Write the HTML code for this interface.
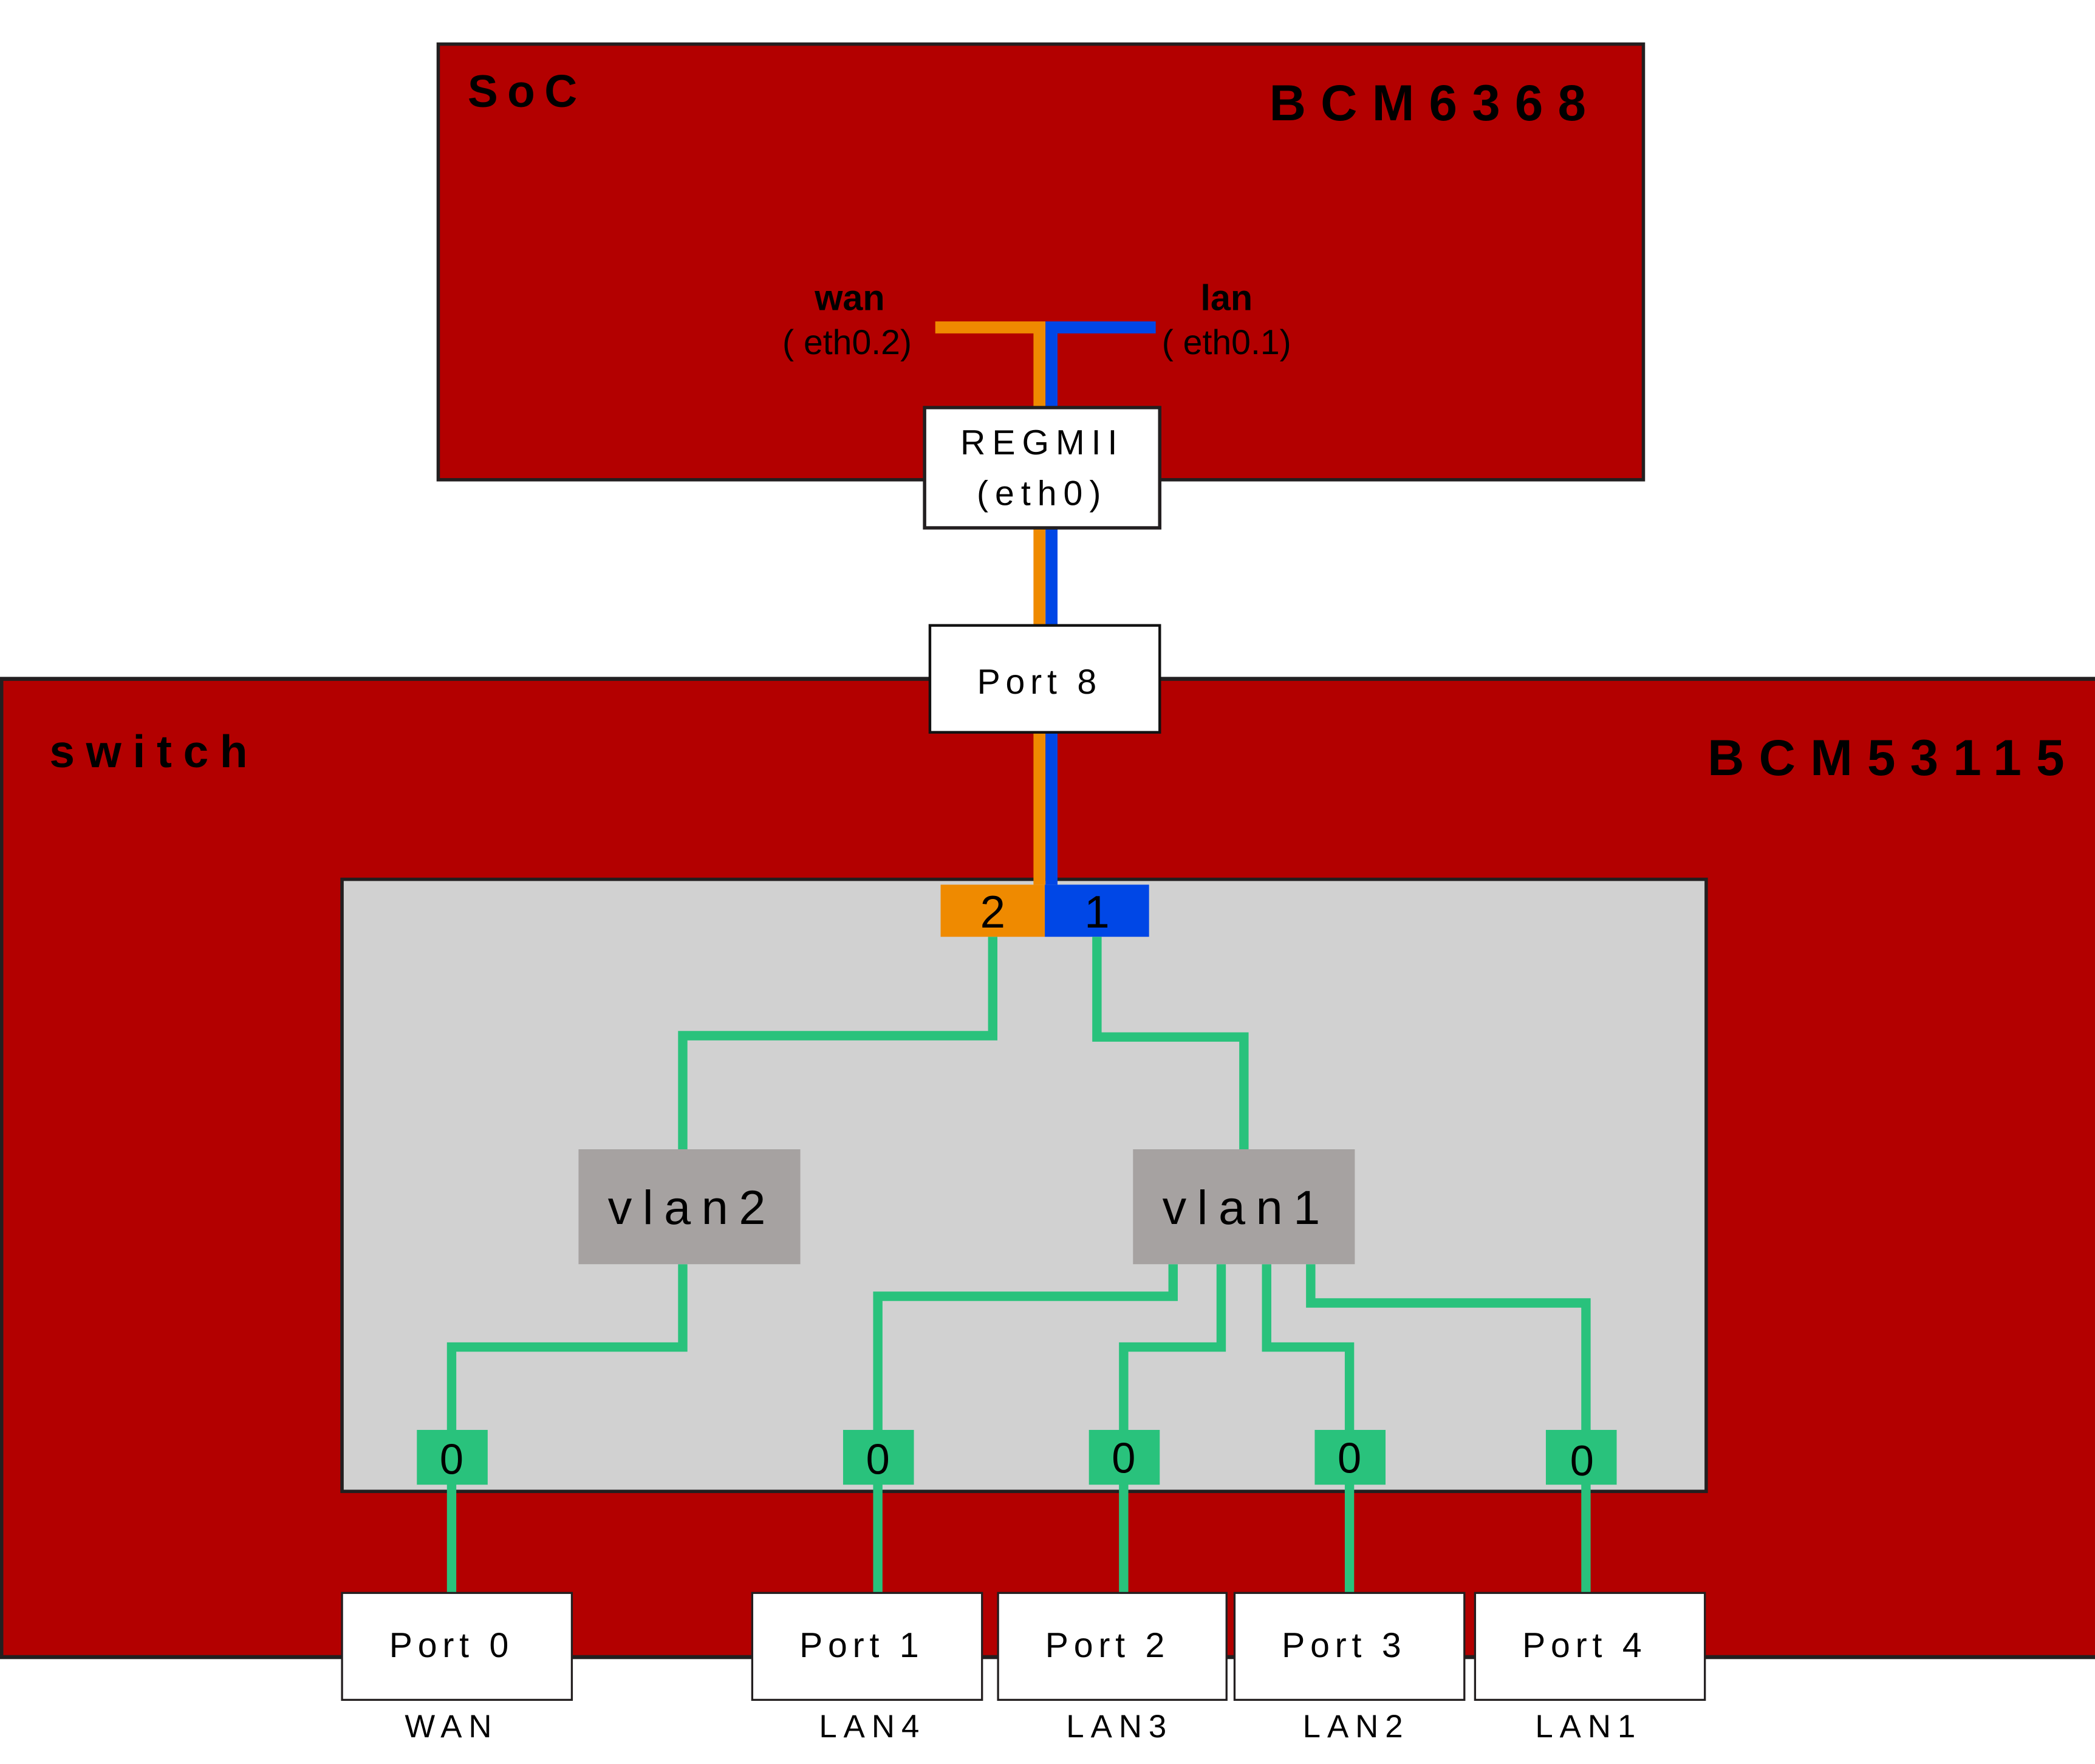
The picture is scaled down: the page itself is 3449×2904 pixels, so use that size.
<!DOCTYPE html>
<html><head><meta charset="utf-8"><style>html,body{margin:0;padding:0;background:#fff}svg{display:block}</style></head>
<body>
<svg width="3449" height="2904" viewBox="0 0 1568 1320" preserveAspectRatio="none" xmlns="http://www.w3.org/2000/svg" font-family="Liberation Sans, sans-serif">
<rect x="0" y="0" width="1568" height="1320" fill="#fff"/>
<!-- SoC -->
<rect x="328" y="33" width="902" height="326" fill="#b30000" stroke="#231f20" stroke-width="2.5"/>
<text x="350" y="80" font-size="34" font-weight="bold" letter-spacing="7">SoC</text>
<text x="950" y="90" font-size="38" font-weight="bold" letter-spacing="11">BCM6368</text>
<text x="636" y="232" font-size="27" font-weight="bold" text-anchor="middle">wan</text>
<text x="634" y="265" font-size="26" text-anchor="middle">( eth0.2)</text>
<text x="918" y="232" font-size="27" font-weight="bold" text-anchor="middle">lan</text>
<text x="918" y="265" font-size="26" text-anchor="middle">( eth0.1)</text>
<!-- switch -->
<rect x="1" y="508" width="1580" height="732" fill="#b30000" stroke="#231f20" stroke-width="3"/>
<text x="37" y="574" font-size="34" font-weight="bold" letter-spacing="8.5">switch</text>
<text x="1278" y="580" font-size="38" font-weight="bold" letter-spacing="11">BCM53115</text>
<rect x="256" y="658" width="1021" height="458" fill="#d1d1d1" stroke="#231f20" stroke-width="2.5"/>
<!-- orange / blue -->
<path d="M700 245 H778 V662" fill="none" stroke="#ef8a00" stroke-width="9"/>
<path d="M865 245 H787 V662" fill="none" stroke="#0047e6" stroke-width="9"/>
<rect x="692" y="305" width="176" height="90" fill="#fff" stroke="#231f20" stroke-width="2.5"/>
<text x="780" y="340" font-size="26" text-anchor="middle" letter-spacing="5">REGMII</text>
<text x="780" y="378" font-size="26" text-anchor="middle" letter-spacing="5">(eth0)</text>
<rect x="696" y="468" width="172" height="80" fill="#fff" stroke="#111" stroke-width="2"/>
<text x="778" y="519" font-size="26" text-anchor="middle" letter-spacing="4">Port 8</text>
<rect x="704" y="662" width="78" height="39" fill="#ef8a00"/>
<rect x="782" y="662" width="78" height="39" fill="#0047e6"/>
<text x="743" y="694" font-size="34" text-anchor="middle">2</text>
<text x="821" y="694" font-size="34" text-anchor="middle">1</text>
<!-- green lines -->
<g fill="none" stroke="#29c27c" stroke-width="7">
<path d="M743 701 V775 H511 V860"/>
<path d="M821 701 V776 H931 V862"/>
<path d="M511 946 V1008 H338 V1192"/>
<path d="M878 946 V970 H657 V1192"/>
<path d="M914 946 V1008 H841 V1192"/>
<path d="M948 946 V1008 H1010 V1192"/>
<path d="M981 946 V975 H1187 V1192"/>
</g>
<rect x="433" y="860" width="166" height="86" fill="#a6a2a1"/>
<rect x="848" y="860" width="166" height="86" fill="#a6a2a1"/>
<text x="518" y="916" font-size="36" text-anchor="middle" letter-spacing="8">vlan2</text>
<text x="933" y="916" font-size="36" text-anchor="middle" letter-spacing="8">vlan1</text>
<g fill="#29c27c">
<rect x="312" y="1070" width="53" height="41"/>
<rect x="631" y="1070" width="53" height="41"/>
<rect x="815" y="1070" width="53" height="41"/>
<rect x="984" y="1070" width="53" height="41"/>
<rect x="1157" y="1070" width="53" height="41"/>
</g>
<g font-size="32" text-anchor="middle">
<text x="338" y="1103">0</text><text x="657" y="1103">0</text><text x="841" y="1102">0</text><text x="1010" y="1102">0</text><text x="1184" y="1104">0</text>
</g>
<g fill="#fff" stroke="#231f20" stroke-width="1.5">
<rect x="256" y="1192" width="172" height="80"/>
<rect x="563" y="1192" width="172" height="80"/>
<rect x="747" y="1192" width="171" height="80"/>
<rect x="924" y="1192" width="172" height="80"/>
<rect x="1104" y="1192" width="172" height="80"/>
</g>
<g font-size="26" text-anchor="middle" letter-spacing="4">
<text x="338" y="1240">Port 0</text>
<text x="645" y="1240">Port 1</text>
<text x="829" y="1240">Port 2</text>
<text x="1006" y="1240">Port 3</text>
<text x="1186" y="1240">Port 4</text>
</g>
<g font-size="24" text-anchor="middle" letter-spacing="5">
<text x="338" y="1300">WAN</text>
<text x="653" y="1300">LAN4</text>
<text x="838" y="1300">LAN3</text>
<text x="1015" y="1300">LAN2</text>
<text x="1189" y="1300">LAN1</text>
</g>
</svg>
</body></html>
